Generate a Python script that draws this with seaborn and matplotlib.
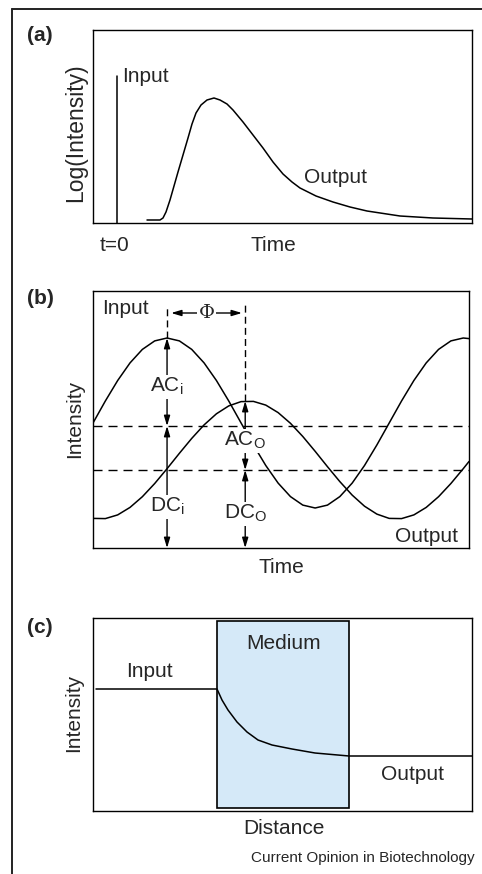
import matplotlib
matplotlib.use("Agg")
import matplotlib.pyplot as plt
import seaborn as sns
from matplotlib.lines import Line2D
from matplotlib.patches import Rectangle

# (a) pulso de entrada y salida ensanchada (ejes arbitrarios)
a_input_x = [24, 24]
a_input_y = [0, 147]
a_out_x = [54, 67, 70, 73, 77, 81, 85, 90, 95, 99, 103, 108, 114, 121, 127, 134, 140, 150,
           160, 170, 180, 190, 199, 207, 223, 240, 257, 274, 307, 340, 379]
a_out_y = [3, 3, 5, 11, 23, 37, 51, 68, 85, 99, 110, 118, 123, 125, 123, 119, 113, 101,
           88, 75, 61, 49, 41, 35, 27, 21, 16, 12, 7, 5, 4]

# (b) modulacion: fase en grados
b_theta = [0, 15, 30, 45, 60, 75, 90, 105, 120, 135, 150, 165, 180, 195, 210, 225, 240, 255,
           270, 285, 300, 315, 330, 345, 360, 375, 390, 405, 420, 435, 450, 457]
b_input = [125.0, 147.0, 167.5, 185.1, 198.6, 207.1, 210.0, 207.1, 198.6, 185.1, 167.5, 147.0,
           125.0, 103.0, 82.5, 64.9, 51.4, 42.9, 40.0, 42.9, 51.4, 64.9, 82.5, 103.0,
           125.0, 147.0, 167.5, 185.1, 198.6, 207.1, 210.0, 209.4]
b_output = [29.6, 29.4, 33.1, 40.6, 51.3, 64.5, 79.3, 94.7, 109.6, 123.1, 134.2, 142.1,
            146.4, 146.6, 142.9, 135.4, 124.7, 111.5, 96.7, 81.3, 66.4, 52.9, 41.8, 33.9,
            29.6, 29.4, 33.1, 40.6, 51.3, 64.5, 79.3, 86.5]
b_dc_levels = [122, 78]          # DC entrada, DC salida
b_peaks_theta = [90, 185]        # maximo entrada, maximo salida
b_peaks_y = [210, 147]

# (c) atenuacion en el medio
c_x = [3, 124, 129, 135, 144, 154, 165, 179, 199, 222, 256, 379]
c_y = [122, 122, 111, 101, 89, 79, 71, 66, 62, 58, 55, 55]
c_medium = [124, 256]

FS = 15
sns.set_style("white")
plt.rcParams['font.family'] = ['Liberation Sans', 'DejaVu Sans']
plt.rcParams['mathtext.fontset'] = 'custom'
plt.rcParams['mathtext.rm'] = 'Liberation Sans'
plt.rcParams['mathtext.it'] = 'Liberation Sans:italic'

fig = plt.figure(figsize=(4.82, 8.74), dpi=100)
ax_a = fig.add_axes([93/482, 1-223/874, 379/482, 193/874])
ax_b = fig.add_axes([93/482, 1-548/874, 376/482, 257/874])
ax_c = fig.add_axes([93/482, 1-811/874, 379/482, 193/874])
for ax in (ax_a, ax_b, ax_c):
    ax.set_xticks([])
    ax.set_yticks([])
    for s in ax.spines.values():
        s.set_color('black')
        s.set_linewidth(1.0)

def flecha(ax, x0, y0, x1, y1):
    ax.annotate('', xy=(x1, y1), xytext=(x0, y0),
                arrowprops=dict(arrowstyle='<|-|>,head_length=0.6,head_width=0.18',
                                color='black', lw=1, shrinkA=0, shrinkB=0))

caja = dict(facecolor='white', edgecolor='none', pad=1)

# ---- panel a
sns.lineplot(x=a_input_x, y=a_input_y, ax=ax_a, color='black', lw=1.1, sort=False, estimator=None)
sns.lineplot(x=a_out_x, y=a_out_y, ax=ax_a, color='black', lw=1.1, sort=False, estimator=None)
ax_a.set_xlim(0, 379)
ax_a.set_ylim(0, 193)
ax_a.text(29, 141, 'Input', fontsize=FS, ha='left', va='baseline')
ax_a.text(211, 40, 'Output', fontsize=FS, ha='left', va='baseline')
ax_a.text(22, -28, 't=0', fontsize=FS, ha='center', va='baseline')
ax_a.text(180, -28, 'Time', fontsize=FS, ha='center', va='baseline')
ax_a.text(-17, 90, 'Log(Intensity)', fontsize=16.5, ha='center', va='center', rotation=90)

# ---- panel b
sns.lineplot(x=b_theta, y=b_input, ax=ax_b, color='black', lw=1.1, sort=False, estimator=None)
sns.lineplot(x=b_theta, y=b_output, ax=ax_b, color='black', lw=1.1, sort=False, estimator=None)
ax_b.set_xlim(0, 457)
ax_b.set_ylim(0, 257)
for lvl in b_dc_levels:
    ax_b.axhline(lvl, color='black', lw=1, ls=(0, (6.5, 4.3)))
for th, yp in zip(b_peaks_theta, b_peaks_y):
    ax_b.plot([th, th], [yp, 243], color='black', lw=1, ls=(0, (5, 3)))
flecha(ax_b, b_peaks_theta[0], b_peaks_y[0], b_peaks_theta[0], b_dc_levels[0])
flecha(ax_b, b_peaks_theta[0], b_dc_levels[0], b_peaks_theta[0], 0)
flecha(ax_b, b_peaks_theta[1], b_peaks_y[1], b_peaks_theta[1], b_dc_levels[1])
flecha(ax_b, b_peaks_theta[1], b_dc_levels[1], b_peaks_theta[1], 0)
flecha(ax_b, 95, 235, 181, 235)
ax_b.text(138, 235, r'$\Phi$', fontsize=14, ha='center', va='center', bbox=caja, zorder=5,
          math_fontfamily='dejavuserif')
ax_b.text(90, 156, r'AC$_\mathrm{i}$', fontsize=FS, ha='center', va='baseline', bbox=caja, zorder=5)
ax_b.text(90, 36, r'DC$_\mathrm{i}$', fontsize=FS, ha='center', va='baseline', bbox=caja, zorder=5)
ax_b.text(185, 102, r'AC$_\mathrm{O}$', fontsize=FS, ha='center', va='baseline', bbox=caja, zorder=5)
ax_b.text(185, 29, r'DC$_\mathrm{O}$', fontsize=FS, ha='center', va='baseline', bbox=caja, zorder=5)
ax_b.text(11, 234, 'Input', fontsize=FS, ha='left', va='baseline')
ax_b.text(444, 6, 'Output', fontsize=FS, ha='right', va='baseline')
ax_b.text(229, -25, 'Time', fontsize=FS, ha='center', va='baseline')
ax_b.text(-22, 129, 'Intensity', fontsize=FS, ha='center', va='center', rotation=90)

# ---- panel c
ax_c.add_patch(Rectangle((c_medium[0], 3), c_medium[1] - c_medium[0], 187,
                         facecolor='#d5e9f8', edgecolor='black', lw=1.2, zorder=1))
sns.lineplot(x=c_x, y=c_y, ax=ax_c, color='black', lw=1.1, sort=False, estimator=None, zorder=3)
ax_c.set_xlim(0, 379)
ax_c.set_ylim(0, 193)
ax_c.text(191, 162, 'Medium', fontsize=FS, ha='center', va='baseline')
ax_c.text(56, 134, 'Input', fontsize=FS, ha='center', va='baseline')
ax_c.text(320, 31, 'Output', fontsize=FS, ha='center', va='baseline')
ax_c.text(191, -23, 'Distance', fontsize=FS, ha='center', va='baseline')
ax_c.text(-19, 98, 'Intensity', fontsize=FS, ha='center', va='center', rotation=90)

# etiquetas de panel y marco exterior
fig.text(27/482, 1-41/874, '(a)', fontsize=FS, fontweight='bold', ha='left', va='baseline')
fig.text(27/482, 1-304/874, '(b)', fontsize=FS, fontweight='bold', ha='left', va='baseline')
fig.text(27/482, 1-633/874, '(c)', fontsize=FS, fontweight='bold', ha='left', va='baseline')
fig.text(475/482, 1-862/874, 'Current Opinion in Biotechnology', fontsize=11, ha='right', va='baseline')
fig.add_artist(Line2D([12/482, 1], [1-9/874, 1-9/874], color='#222222', lw=1.4))
fig.add_artist(Line2D([12/482, 12/482], [1-9/874, 0], color='#222222', lw=1.4))

fig.savefig('out.png', dpi=100)
